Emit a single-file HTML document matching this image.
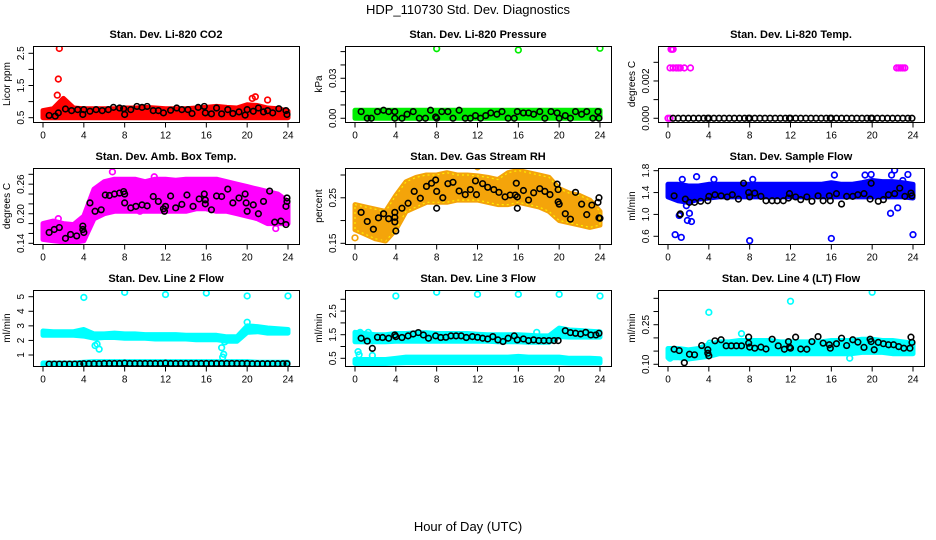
<!DOCTYPE html>
<html><head><meta charset="utf-8">
<style>
html,body{margin:0;padding:0;background:#fff;}
svg{display:block;font-family:"Liberation Sans",sans-serif;}
</style></head>
<body>
<svg id="chart" width="936" height="540" viewBox="0 0 936 540" xmlns="http://www.w3.org/2000/svg">
<rect x="0" y="0" width="936" height="540" fill="#fff"/>
<text x="468" y="14" text-anchor="middle" font-size="13">HDP_110730  Std. Dev. Diagnostics</text>
<text x="468" y="531" text-anchor="middle" font-size="13">Hour of Day (UTC)</text>
</svg>
<script>
// ---------- shared categories ----------
const hours = [0,1,2,3,4,5,6,7,8,9,10,11,12,13,14,15,16,17,18,19,20,21,22,23,24];
const xTicks = [0,4,8,12,16,20,24];

// ---------- panel 1: CO2 ----------
const co2BandLo = [.5,.5,.5,.5,.5,.5,.5,.5,.5,.5,.5,.5,.5,.5,.5,.5,.5,.5,.5,.5,.5,.5,.5,.5,.5];
const co2BandHi = [.72,.78,1.1,.8,.78,.78,.78,.78,.8,.8,.82,.8,.78,.78,.78,.8,.82,.85,.82,.8,.9,.88,.8,.78,.7];
const co2OutX = [1.6,1.5,20.8,22,20.5,1.4];
const co2OutY = [2.65,1.7,1.15,1.05,1.1,1.2];
const co2BlkX = [0.6,1.2,1.5,2.2,2.8,3.4,3.9,4,4.6,5.2,5.8,6.4,6.9,7.5,7.9,8,8.6,9.2,9.7,10.2,10.8,11.3,11.8,12.5,13.1,13.6,14.2,14.6,15.2,15.8,15.9,16.5,17,17.5,18.1,18.6,19.2,19.8,20,20.6,21.1,21.6,22,22.5,23.1,23.8,23.9];
const co2BlkY = [.57,.55,.65,.77,.72,.75,.6,.75,.7,.75,.72,.75,.82,.8,.78,.6,.75,.85,.82,.85,.72,.72,.65,.73,.8,.75,.75,.63,.82,.85,.65,.62,.8,.62,.75,.63,.68,.58,.75,.7,.8,.68,.72,.65,.78,.72,.6];
const co2Ticks = [0.5,1,1.5,2,2.5];
const co2Labels = ["0.5","","1.5","","2.5"];

// ---------- panel 2: pressure ----------
const prBandLo = [0,0,0,0,0,0,0,0,0,0,0,0,0,0,0,0,0,0,0,0,0,0,0,0,0];
const prBandHi = [.006,.006,.006,.006,.006,.006,.006,.006,.006,.006,.006,.006,.006,.006,.006,.006,.006,.006,.006,.006,.006,.006,.006,.006,.006];
const prOutX = [8,16,24];
const prOutY = [.0522,.0512,.0525];
const prBlkX = [0.6,1.2,1.6,2.2,2.8,3.3,3.9,3.9,4.6,5.1,5.7,6.3,6.9,7.4,7.9,8,8.5,9.1,9.6,10.2,10.8,11.3,11.8,12.3,12.8,13.3,13.9,14.4,15,15.6,15.9,16.5,17,17.5,18.1,18.6,19.2,19.8,20,20.6,21.1,21.6,22.2,22.7,23.3,23.8,23.9];
const prBlkY = [.005,0,0,.005,.006,.005,0,.005,0,.003,.005,0,0,.006,.001,0,.005,.005,0,.006,0,0,.002,0,.002,.004,.003,.005,0,0,.005,.004,.004,.003,.005,0,.005,.004,0,.002,0,.005,.003,.005,0,.005,0];
const prTicks = [0,.01,.02,.03,.04,.05];
const prLabels = ["0.00","","","0.03","",""];

// ---------- panel 3: Li-820 temp ----------
const tpBandLo = [0,0,0,0,0,0,0,0,0,0,0,0,0,0,0,0,0,0,0,0,0,0,0,0,0];
const tpBandHi = [0,0,0,0,0,0,0,0,0,0,0,0,0,0,0,0,0,0,0,0,0,0,0,0,0];
const tpOutX = [0.3,0.4,0.5,0.2,0.5,0.8,1.0,1.2,1.6,2.2,22.4,22.6,22.8,23.0,23.2,0,0.2];
const tpOutY = [.0037,.0037,.0037,.0027,.0027,.0027,.0027,.0027,.0027,.0027,.0027,.0027,.0027,.0027,.0027,0,0];
const tpBlkX = [0.5,1,1.5,2,2.5,3,3.5,3.9,4,4.5,5,5.5,6,6.5,7,7.5,7.9,8,8.5,9,9.5,10,10.5,11,11.5,11.9,12,12.5,13,13.5,14,14.5,15,15.5,15.9,16,16.5,17,17.5,18,18.5,19,19.5,19.9,20,20.5,21,21.5,22,22.5,23,23.5,23.9];
const tpBlkY = [0,0,0,0,0,0,0,0,0,0,0,0,0,0,0,0,0,0,0,0,0,0,0,0,0,0,0,0,0,0,0,0,0,0,0,0,0,0,0,0,0,0,0,0,0,0,0,0,0,0,0,0,0];
const tpTicks = [0,.001,.002,.003];
const tpLabels = ["0.000","","0.002",""];

// ---------- panel 4: amb box temp ----------
const abBandLo = [.148,.145,.143,.142,.145,.19,.2,.205,.205,.205,.205,.205,.205,.205,.205,.21,.21,.205,.205,.2,.195,.19,.18,.18,.18];
const abBandHi = [.18,.185,.18,.178,.195,.25,.265,.27,.27,.27,.265,.27,.27,.268,.27,.27,.27,.27,.265,.26,.255,.25,.245,.24,.225];
const abOutX = [6.8,10.9,1.5,2.4,22.8,9.5];
const abOutY = [.285,.275,.19,.143,.17,.205];
const abBlkX = [0.6,1.1,1.6,2.2,2.7,3.3,3.9,3.9,4,4.6,5.1,5.7,6.1,6.5,7,7.5,7.9,8,8,8.6,9.1,9.7,10.2,10.8,11.3,11.8,11.9,12,12.5,13,13.6,14.1,14.7,15.3,15.8,15.9,15.9,16.5,17,17.5,18.1,18.6,19.2,19.8,19.9,20,20.6,21.1,21.6,22.2,22.7,23.3,23.8,23.8,23.9,23.9];
const abBlkY = [.162,.168,.172,.15,.158,.155,.175,.168,.162,.222,.205,.208,.238,.237,.24,.242,.245,.24,.222,.212,.215,.218,.216,.235,.225,.21,.205,.215,.236,.212,.219,.238,.215,.23,.24,.228,.22,.208,.236,.235,.25,.222,.232,.24,.222,.205,.218,.2,.225,.246,.183,.185,.178,.215,.225,.232];
const abTicks = [.14,.16,.18,.20,.22,.24,.26,.28];
const abLabels = ["0.14","","","0.20","","","0.26",""];

// ---------- panel 5: gas stream RH ----------
const rhBandLo = [.18,.17,.16,.155,.18,.22,.23,.24,.24,.24,.245,.245,.245,.24,.235,.235,.24,.235,.23,.22,.2,.195,.19,.185,.19];
const rhBandHi = [.235,.23,.225,.22,.255,.285,.295,.3,.3,.305,.3,.3,.298,.295,.29,.305,.31,.305,.3,.295,.27,.26,.255,.245,.22];
const rhOutX = [0,12,2.7,4.2];
const rhOutY = [.162,.318,.16,.2];
const rhBlkX = [0.6,1.2,1.8,2.3,2.8,3.3,3.9,3.9,3.9,4,4.6,5.2,5.8,6.4,7,7.5,7.9,8,8,8.6,9.1,9.6,10.2,10.8,11.3,11.8,11.9,12.5,13,13.6,14.1,14.7,15.2,15.7,15.8,15.9,15.9,16.5,17,17.5,18.1,18.6,19.1,19.8,19.9,19.9,20,20.6,21.1,21.6,22.2,22.7,23.2,23.8,23.9,23.9,24];
const rhBlkY = [.218,.198,.181,.206,.215,.204,.218,.207,.197,.177,.227,.238,.264,.249,.275,.282,.289,.264,.227,.25,.281,.284,.265,.257,.268,.287,.257,.281,.273,.268,.262,.252,.256,.256,.282,.252,.227,.266,.245,.261,.27,.264,.257,.28,.268,.241,.236,.215,.203,.262,.236,.213,.234,.24,.25,.206,.205];
const rhTicks = [.15,.20,.25,.30];
const rhLabels = ["0.15","","0.25",""];

// ---------- panel 6: sample flow ----------
const sfBandLo = [1.32,1.25,1.22,1.28,1.3,1.32,1.32,1.32,1.32,1.32,1.32,1.32,1.32,1.32,1.32,1.32,1.32,1.32,1.32,1.32,1.32,1.32,1.32,1.32,1.3];
const sfBandHi = [1.55,1.55,1.52,1.52,1.55,1.55,1.55,1.55,1.55,1.55,1.55,1.55,1.55,1.55,1.55,1.55,1.58,1.55,1.55,1.58,1.62,1.6,1.6,1.58,1.55];
const sfOutX = [0.7,1.3,8,16,24,1.1,1.9,2.3,2.1,1.8,2.8,21.8,22.5,22.2,21.9,19.9,16.3,1.4,4.5,8.3,23.5,23,19.3];
const sfOutY = [.63,.58,.52,.56,.63,.98,.89,.87,1.02,1.16,1.69,1.02,1.12,1.81,1.72,1.73,1.72,1.64,1.64,1.64,1.73,1.62,1.72];
const sfBlkX = [0.6,1.2,1.2,1.7,2.1,2.6,3.2,3.9,4,4.6,5.2,5.8,6.3,6.9,7.4,7.9,8,8.5,9.1,9.6,10.2,10.7,11.3,11.8,11.9,12.5,13,13.6,14.1,14.7,15.2,15.8,15.9,16.5,17,17.5,18.1,18.6,19.2,19.8,19.9,20.6,21.1,21.6,22.2,22.7,23.2,23.8,23.9];
const sfBlkY = [1.34,1.0,1.01,1.28,1.22,1.22,1.24,1.25,1.33,1.36,1.34,1.32,1.36,1.28,1.57,1.4,1.32,1.39,1.33,1.25,1.25,1.25,1.25,1.3,1.38,1.32,1.27,1.32,1.24,1.34,1.25,1.34,1.25,1.38,1.19,1.33,1.33,1.36,1.38,1.28,1.57,1.24,1.27,1.36,1.38,1.48,1.33,1.39,1.34];
const sfTicks = [.6,1.0,1.4,1.8];
const sfLabels = ["0.6","1.0","1.4","1.8"];

// ---------- panel 7: line 2 flow ----------
const l2BandLo = [2.35,2.35,2.35,2.35,2.3,2.15,2.2,2.2,2.15,2.15,2.15,2.1,2.1,2.1,2.1,2.05,2.05,2.05,1.95,1.95,2.55,2.6,2.5,2.5,2.5];
const l2BandHi = [2.65,2.6,2.6,2.6,2.75,2.45,2.45,2.5,2.45,2.45,2.4,2.4,2.4,2.4,2.35,2.35,2.35,2.35,2.25,2.25,3.0,2.95,2.85,2.8,2.75];
const l2LowLo = [.3,.3,.3,.3,.3,.3,.3,.3,.3,.3,.3,.3,.3,.3,.3,.3,.3,.3,.3,.3,.3,.3,.3,.3,.3];
const l2LowHi = [.45,.45,.45,.45,.5,.55,.55,.55,.55,.55,.55,.55,.55,.55,.55,.55,.55,.55,.55,.55,.55,.5,.5,.5,.5];
const l2OutX = [4,8,12,16,20,24,5.3,5.5,5.1,17.6,17.5,17.8,17.7,20];
const l2OutY = [4.95,5.3,5.15,5.25,5.05,5.05,1.75,1.4,1.65,0.85,1.5,1.9,1.05,3.25];
const l2BlkX = [0.6,1.1,1.6,2.1,2.6,3.1,3.6,4,4.5,5,5.5,6,6.5,7,7.5,8,8.5,9,9.5,10,10.5,11,11.5,12,12.5,13,13.5,14,14.5,15,15.5,16,16.5,17,17.5,18,18.5,19,19.5,20,20.5,21,21.5,22,22.5,23,23.5,23.9];
const l2BlkY = [.38,.38,.38,.38,.38,.38,.38,.4,.4,.4,.4,.42,.42,.42,.42,.44,.42,.42,.42,.42,.42,.42,.42,.44,.42,.42,.42,.42,.42,.42,.42,.42,.42,.42,.42,.42,.42,.42,.42,.42,.4,.4,.4,.4,.4,.4,.4,.4];
const l2Ticks = [1,2,3,4,5];
const l2Labels = ["1","2","3","4","5"];

// ---------- panel 8: line 3 flow ----------
const l3BandLo = [1.2,1.2,1.2,1.2,1.22,1.22,1.22,1.22,1.22,1.22,1.22,1.22,1.22,1.22,1.2,1.2,1.2,1.18,1.18,1.18,1.42,1.4,1.4,1.4,1.4];
const l3BandHi = [1.6,1.55,1.5,1.5,1.55,1.55,1.58,1.58,1.55,1.55,1.55,1.55,1.52,1.5,1.5,1.5,1.5,1.48,1.45,1.45,1.78,1.7,1.68,1.65,1.62];
const l3LowLo = [.28,.28,.28,.28,.3,.32,.32,.32,.32,.32,.32,.32,.32,.32,.32,.32,.32,.32,.32,.32,.32,.3,.3,.3,.3];
const l3LowHi = [.45,.45,.45,.45,.5,.55,.55,.55,.55,.55,.55,.55,.55,.55,.55,.55,.58,.55,.55,.55,.55,.5,.5,.5,.48];
const l3OutX = [4,8,12,16,20,24,0.3,0.4,1.3,1.7,0.5,17.8];
const l3OutY = [3.14,3.3,3.21,3.21,3.21,3.14,.78,.65,1.6,.62,1.6,1.6];
const l3BlkX = [0.6,1.2,1.7,2.2,2.7,3.3,3.9,4,4.6,5.2,5.7,6.2,6.7,7.2,7.9,8.4,8.9,9.4,9.9,10.4,10.9,11.5,12,12.5,13,13.5,14,14.5,15,15.6,15.9,16.5,17,17.5,18,18.5,19,19.5,19.9,20.6,21.1,21.6,22.1,22.6,23.1,23.6,23.9];
const l3BlkY = [1.35,1.23,.92,1.39,1.38,1.35,1.49,1.42,1.38,1.45,1.53,1.59,1.49,1.35,1.45,1.38,1.39,1.45,1.45,1.45,1.38,1.42,1.39,1.35,1.32,1.42,1.28,1.21,1.35,1.45,1.28,1.32,1.25,1.28,1.25,1.25,1.25,1.25,1.25,1.67,1.59,1.56,1.53,1.6,1.49,1.49,1.56];
const l3Ticks = [.5,1,1.5,2,2.5,3];
const l3Labels = ["0.5","","1.5","","2.5",""];

// ---------- panel 9: line 4 flow ----------
const l4BandLo = [.125,.125,.12,.125,.13,.14,.14,.14,.14,.14,.14,.14,.14,.14,.14,.14,.14,.14,.14,.145,.145,.145,.14,.14,.14];
const l4BandHi = [.16,.16,.155,.16,.175,.185,.185,.19,.19,.19,.19,.185,.185,.185,.185,.185,.19,.19,.19,.195,.195,.19,.19,.185,.18];
const l4OutX = [4,12,20,0.2,17.8,7.2,4.1];
const l4OutY = [.297,.339,.373,.123,.123,.216,.18];
const l4BlkX = [0.6,1.1,1.6,2.1,2.6,3.3,3.9,3.9,4,4.6,5.2,5.7,6.2,6.7,7.2,7.9,7.9,8,8.5,9.1,9.6,10.2,10.8,11.4,11.8,11.9,12,12.5,13,13.6,14.1,14.7,15.2,15.8,15.9,16.5,17,17.5,18.1,18.6,19.2,19.8,19.9,20.2,20.6,21.1,21.6,22.1,22.6,23.1,23.7,23.8,23.9];
const l4BlkY = [.157,.152,.106,.138,.136,.171,.155,.142,.132,.189,.193,.17,.17,.17,.17,.203,.18,.165,.161,.165,.158,.195,.17,.157,.186,.165,.161,.203,.158,.157,.186,.205,.18,.174,.161,.178,.199,.171,.193,.184,.164,.195,.186,.155,.183,.178,.174,.174,.167,.161,.161,.203,.183];
const l4Ticks = [.10,.15,.20,.25,.30,.35];
const l4Labels = ["0.10","","","0.25","",""];

// ---------- layout ----------
const NS = "http://www.w3.org/2000/svg";
const svg = document.getElementById('chart');
function mk(tag, attrs, parent){
  const e = document.createElementNS(NS, tag);
  for (const k in attrs) e.setAttribute(k, attrs[k]);
  (parent||svg).appendChild(e);
  return e;
}
const colLeft = [33,345,658];
const rowTop = [46,168,290];
const FW = 266, FH = 76;

const panels = [
 {key:'co2', title:'Stan. Dev. Li-820 CO2', ylab:'Licor ppm', col:'#ff0000', lo:0.366, hi:2.727, bLo:co2BandLo, bHi:co2BandHi, oX:co2OutX, oY:co2OutY, kX:co2BlkX, kY:co2BlkY, ticks:co2Ticks, labs:co2Labels},
 {key:'pressure', title:'Stan. Dev. Li-820 Pressure', ylab:'kPa', col:'#00ee00', lo:-0.0028, hi:0.0542, bLo:prBandLo, bHi:prBandHi, oX:prOutX, oY:prOutY, kX:prBlkX, kY:prBlkY, ticks:prTicks, labs:prLabels},
 {key:'li820-temp', title:'Stan. Dev. Li-820 Temp.', ylab:'degrees C', col:'#ff00ff', lo:-0.0002, hi:0.003875, bLo:null, bHi:null, oX:tpOutX, oY:tpOutY, kX:tpBlkX, kY:tpBlkY, ticks:tpTicks, labs:tpLabels},
 {key:'amb-box-temp', title:'Stan. Dev. Amb. Box Temp.', ylab:'degrees C', col:'#ff00ff', lo:0.1386, hi:0.2928, bLo:abBandLo, bHi:abBandHi, oX:abOutX, oY:abOutY, kX:abBlkX, kY:abBlkY, ticks:abTicks, labs:abLabels},
 {key:'gas-rh', title:'Stan. Dev. Gas Stream RH', ylab:'percent', col:'#f4a40a', col2:'#ffee00', lo:0.1485, hi:0.3154, bLo:rhBandLo, bHi:rhBandHi, oX:rhOutX, oY:rhOutY, kX:rhBlkX, kY:rhBlkY, ticks:rhTicks, labs:rhLabels},
 {key:'sample-flow', title:'Stan. Dev. Sample Flow', ylab:'ml/min', col:'#0000ff', lo:0.459, hi:1.849, bLo:sfBandLo, bHi:sfBandHi, oX:sfOutX, oY:sfOutY, kX:sfBlkX, kY:sfBlkY, ticks:sfTicks, labs:sfLabels},
 {key:'line2-flow', title:'Stan. Dev. Line 2 Flow', ylab:'ml/min', col:'#00ffff', lo:0.246, hi:5.46, bLo:l2BandLo, bHi:l2BandHi, b2Lo:l2LowLo, b2Hi:l2LowHi, oX:l2OutX, oY:l2OutY, kX:l2BlkX, kY:l2BlkY, ticks:l2Ticks, labs:l2Labels},
 {key:'line3-flow', title:'Stan. Dev. Line 3 Flow', ylab:'ml/min', col:'#00ffff', lo:0.174, hi:3.394, bLo:l3BandLo, bHi:l3BandHi, b2Lo:l3LowLo, b2Hi:l3LowHi, oX:l3OutX, oY:l3OutY, kX:l3BlkX, kY:l3BlkY, ticks:l3Ticks, labs:l3Labels},
 {key:'line4-flow', title:'Stan. Dev. Line 4 (LT) Flow', ylab:'ml/min', col:'#00ffff', lo:0.0935, hi:0.3816, bLo:l4BandLo, bHi:l4BandHi, oX:l4OutX, oY:l4OutY, kX:l4BlkX, kY:l4BlkY, ticks:l4Ticks, labs:l4Labels}
];

panels.forEach((p, i) => {
  const L = colLeft[i%3], T = rowTop[Math.floor(i/3)];
  const xs = h => L + 10 + h * (245/24);
  const ys = v => T + FH - (v - p.lo) / (p.hi - p.lo) * FH;
  const g = mk('g', {});
  
  

  const clipId = 'clip' + i;
  const cp = mk('clipPath', {id: clipId}, g);
  mk('rect', {x:L, y:T, width:FW, height:FH}, cp);
  const plot = mk('g', {'clip-path':'url(#'+clipId+')'}, g);

  function band(lo, hi, name){
    let d = '';
    hours.forEach((h,j)=>{ d += (j?'L':'M') + xs(h).toFixed(1) + ',' + ys(hi[j]).toFixed(1); });
    for (let j = hours.length-1; j >= 0; j--) d += 'L' + xs(hours[j]).toFixed(1) + ',' + ys(lo[j]).toFixed(1);
    d += 'Z';
    const b = mk('path', {d:d, fill:p.col, stroke:p.col, 'stroke-width':5, 'stroke-linejoin':'round'}, plot);
    
    
    if (p.col2) {
      const b2 = mk('path', {d:d, fill:'none', stroke:p.col2, 'stroke-width':1.2, 'stroke-dasharray':'2 3'}, plot);
      
      
    }
  }
  if (p.bLo) band(p.bLo, p.bHi, 'point-cloud-' + p.key);
  if (p.b2Lo) band(p.b2Lo, p.b2Hi, 'point-cloud-low-' + p.key);

  p.oX.forEach((x,j)=>{
    const c = mk('circle', {cx:xs(x), cy:ys(p.oY[j]), r:2.8, fill:'none', stroke:p.col, 'stroke-width':1.7}, plot);
    
    
  });
  p.kX.forEach((x,j)=>{
    const c = mk('circle', {cx:xs(x), cy:ys(p.kY[j]), r:2.8, fill:'none', stroke:'#000', 'stroke-width':1.6}, plot);
    
    
  });

  const fr = mk('rect', {x:L+0.5, y:T+0.5, width:FW, height:FH, fill:'none', stroke:'#000', 'stroke-width':1}, g);
  
  

  const tt = mk('text', {x:L+FW/2, y:T-8, 'text-anchor':'middle', 'font-size':11, 'font-weight':'bold'}, g);
  tt.textContent = p.title;
  
  

  // x axis
  const xb = T + FH + 0.5;
  const xa = mk('line', {x1:xs(0), x2:xs(24), y1:xb, y2:xb, stroke:'#000'}, g);
  
  
  xTicks.forEach(t=>{
    const tk = mk('line', {x1:xs(t), x2:xs(t), y1:xb, y2:xb+5, stroke:'#000'}, g);
    
    
    const tl = mk('text', {x:xs(t), y:xb+16, 'text-anchor':'middle', 'font-size':10}, g);
    tl.textContent = t;
    
    
  });

  // y axis
  const ya = mk('line', {x1:L+0.5, x2:L+0.5, y1:ys(p.ticks[0]), y2:ys(p.ticks[p.ticks.length-1]), stroke:'#000'}, g);
  
  
  p.ticks.forEach((t,j)=>{
    const y = ys(t);
    const tk = mk('line', {x1:L-4.5, x2:L+0.5, y1:y, y2:y, stroke:'#000'}, g);
    
    
    if (p.labs[j]) {
      const tl = mk('text', {x:L-9, y:y, 'text-anchor':'middle', 'font-size':10, transform:'rotate(-90 '+(L-9)+' '+y+')'}, g);
      tl.textContent = p.labs[j];
      
      
    }
  });
  const yl = mk('text', {x:L-23, y:T+FH/2, 'text-anchor':'middle', 'font-size':10, transform:'rotate(-90 '+(L-23)+' '+(T+FH/2)+')'}, g);
  yl.textContent = p.ylab;
  
  
});
</script>
</body></html>
